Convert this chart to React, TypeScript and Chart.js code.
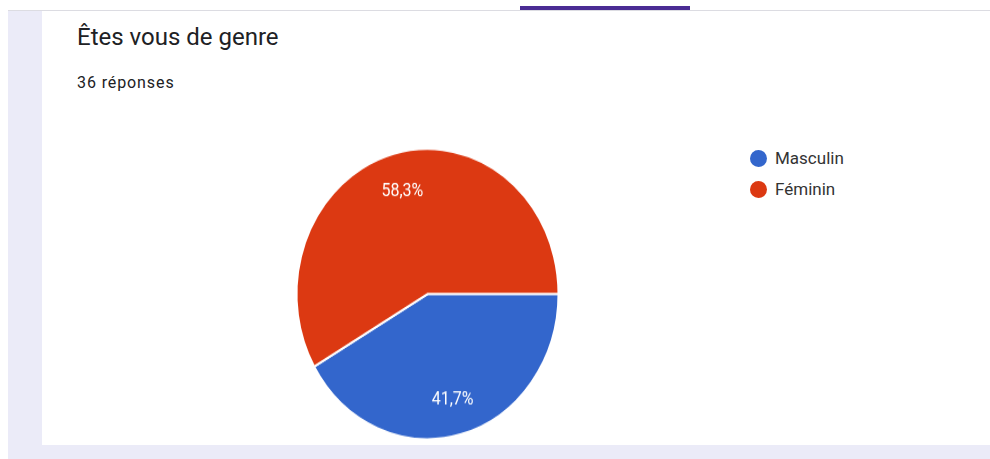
import React, { useEffect, useRef } from 'react';
import { Chart, registerables } from 'chart.js';

Chart.register(...registerables);

const titleText = 'Êtes vous de genre';
const subtitleText = '36 réponses';
const categories = ['Masculin', 'Féminin'];
const responseCounts = [15, 21];
const sliceColors = ['#3366cc', '#dc3912'];

const STRETCH = 1.108;

export default function App() {
  const ref = useRef<HTMLCanvasElement>(null);

  useEffect(() => {
    if (!ref.current) return;
    const total = responseCounts.reduce((a, b) => a + b, 0);
    const labelPlugin = {
      id: 'pctLabels',
      afterDatasetsDraw(chart: any) {
        const ctx = chart.ctx;
        const meta = chart.getDatasetMeta(0);
        const fs = 16;
        ctx.save();
        ctx.fillStyle = '#ffffff';
        ctx.font = `${fs}px Roboto`;
        ctx.textAlign = 'center';
        ctx.textBaseline = 'alphabetic';
        meta.data.forEach((arc: any, i: number) => {
          const p = arc.getProps(['x', 'y', 'startAngle', 'endAngle', 'outerRadius'], true);
          const mid = (p.startAngle + p.endAngle) / 2;
          const r = p.outerRadius * 0.74;
          const x = p.x + Math.cos(mid) * r;
          const y = p.y + Math.sin(mid) * r;
          const txt = ((responseCounts[i] / total) * 100).toFixed(1).replace('.', ',') + '%';
          ctx.fillText(txt, x, y + (fs * 0.711) / 2);
        });
        ctx.restore();
      },
    };
    const chart = new Chart(ref.current, {
      type: 'pie',
      data: {
        labels: categories,
        datasets: [
          {
            data: responseCounts,
            backgroundColor: sliceColors,
            borderColor: '#ffffff',
            borderWidth: 2,
          },
        ],
      },
      options: {
        responsive: false,
        animation: false,
        rotation: 90,
        layout: { padding: { left: 295.5, top: 124.3, right: 140.5, bottom: 3.7 } },
        plugins: { legend: { display: false }, tooltip: { enabled: false } },
      },
      plugins: [labelPlugin],
    } as any);
    return () => chart.destroy();
  }, []);

  const legendCenters = [158, 189];

  return (
    <div
      style={{
        position: 'absolute',
        left: 0,
        top: 0,
        width: 990,
        height: 459,
        background: '#ebebf8',
        overflow: 'hidden',
        fontFamily: 'Roboto, sans-serif',
      }}
    >
      <div style={{ position: 'absolute', left: 0, top: 0, width: 990, height: 10, background: '#ffffff' }} />
      <div style={{ position: 'absolute', left: 0, top: 0, width: 8, height: 459, background: '#ffffff' }} />
      <div style={{ position: 'absolute', left: 8, top: 10, width: 982, height: 1, background: '#dcdce2' }} />
      <div style={{ position: 'absolute', left: 520, top: 6, width: 170, height: 4, background: '#4a2c94' }} />
      <div style={{ position: 'absolute', left: 42, top: 11, width: 948, height: 434, background: '#ffffff' }} />
      <div
        style={{
          position: 'absolute',
          left: 77,
          top: 24.8,
          fontSize: 24,
          lineHeight: '24px',
          color: '#202124',
          whiteSpace: 'nowrap',
        }}
      >
        {titleText}
      </div>
      <div
        style={{
          position: 'absolute',
          left: 77,
          top: 74.5,
          fontSize: 16,
          lineHeight: '16px',
          letterSpacing: 0.9,
          color: '#202124',
          whiteSpace: 'nowrap',
        }}
      >
        {subtitleText}
      </div>
      <div
        style={{
          position: 'absolute',
          left: 0,
          top: 10,
          width: 700,
          height: 392,
          transform: `scaleY(${STRETCH})`,
          transformOrigin: '0 0',
        }}
      >
        <canvas ref={ref} width={700} height={392} style={{ display: 'block' }} />
      </div>
      {categories.map((c, i) => (
        <div
          key={c}
          style={{
            position: 'absolute',
            left: 749.5,
            top: legendCenters[i] - 10,
            height: 20,
            display: 'flex',
            alignItems: 'center',
            whiteSpace: 'nowrap',
          }}
        >
          <div
            style={{
              width: 17,
              height: 17,
              borderRadius: '50%',
              background: sliceColors[i],
              marginRight: 8.5,
            }}
          />
          <span style={{ fontSize: 17, lineHeight: '20px', color: '#333333' }}>{c}</span>
        </div>
      ))}
    </div>
  );
}
